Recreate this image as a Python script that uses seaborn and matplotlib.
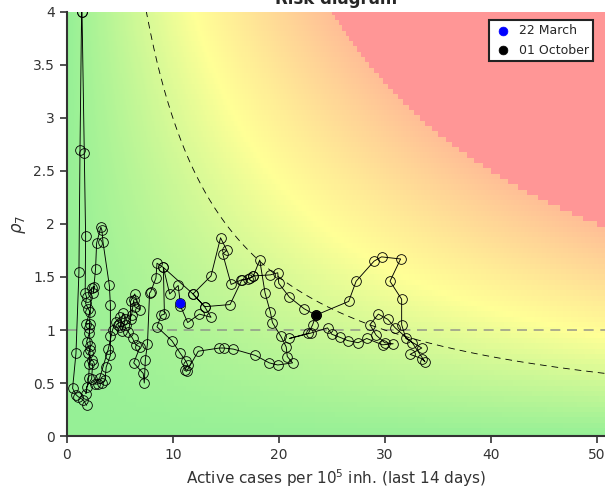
import numpy as np
import pandas as pd
import matplotlib
matplotlib.use("Agg")
import matplotlib.pyplot as plt
from matplotlib.colors import LinearSegmentedColormap, Normalize
import seaborn as sns

# ---- data ----
active_cases = [1.86, 1.54, 1.07, 0.85, 0.53, 0.85, 1.13, 1.23, 1.38, 1.42, 1.63, 1.76, 1.72, 1.85, 1.76,
                2.01, 2.17, 1.79, 2.17, 2.11, 1.85, 2.17, 2.01, 2.33, 2.11, 2.42, 2.33, 1.85, 1.79, 2.05,
                2.20, 2.10, 2.33, 2.58, 2.49, 2.70, 2.80, 3.20, 3.30, 3.40, 4.00, 4.10, 4.10, 4.10, 3.70,
                3.60, 3.30, 2.90, 2.60, 3.10, 3.90, 4.30, 4.60, 5.00, 4.80, 5.20, 5.50, 5.30, 5.00, 5.60,
                6.10, 6.30, 6.40, 6.90, 6.40, 6.00, 6.00, 5.80, 6.20, 6.50, 6.90, 6.30, 7.20, 7.30, 7.40,
                7.60, 7.80, 7.90, 8.40, 8.50, 9.10, 9.70, 10.50, 10.70, 10.70, 11.40, 12.50, 13.60, 13.00, 11.90,
                13.60, 14.50, 15.10, 14.70, 15.50, 16.40, 17.30, 17.60, 18.20, 18.70, 19.20, 19.40, 20.20, 20.70,
                20.80, 21.30, 19.90, 19.10, 17.80, 15.70, 14.80, 14.40, 12.40, 11.30, 11.10, 11.40, 11.20, 10.70,
                9.90, 8.50, 8.90, 9.20, 9.10, 11.9, 13.0, 15.4, 16.5, 17.1, 17.6, 19.2, 19.9, 20.0, 21.0,
                22.4, 23.5, 26.6, 27.3, 29.0, 29.7, 31.5, 30.5, 31.6, 31.6, 32.0, 33.5, 32.4, 33.5, 33.8,
                32.6, 31.0, 30.3, 29.4, 28.6, 29.2, 30.0, 30.8, 29.8, 28.3, 27.5, 26.5, 25.8, 25.0, 24.6,
                23.0, 21.0, 22.8, 23.2, 23.5]
rho7 = [0.29, 0.34, 0.37, 0.39, 0.45, 0.78, 1.55, 2.70, 4.00, 4.00, 2.67, 1.89, 1.35, 1.31, 1.25,
        1.20, 1.17, 1.06, 1.06, 0.97, 0.89, 0.81, 0.78, 0.72, 0.68, 0.68, 0.54, 0.46, 0.40, 0.55,
        0.85, 1.02, 1.40, 1.41, 1.35, 1.58, 1.82, 1.97, 1.94, 1.83, 1.42, 1.24, 0.94, 0.76, 0.65,
        0.53, 0.50, 0.49, 0.49, 0.55, 0.82, 1.00, 1.08, 1.12, 1.05, 0.99, 1.10, 1.16, 1.03, 1.05,
        1.14, 1.28, 1.22, 1.19, 1.34, 1.27, 1.10, 0.98, 0.92, 0.86, 0.84, 0.69, 0.59, 0.50, 0.72,
        0.87, 1.35, 1.36, 1.49, 1.63, 1.59, 1.34, 1.42, 1.25, 1.23, 1.07, 1.15, 1.12, 1.22, 1.34,
        1.51, 1.87, 1.75, 1.72, 1.43, 1.47, 1.49, 1.51, 1.66, 1.35, 1.17, 1.07, 0.94, 0.84,
        0.75, 0.69, 0.67, 0.69, 0.76, 0.82, 0.83, 0.83, 0.80, 0.61, 0.62, 0.67, 0.71, 0.78,
        0.90, 1.03, 1.14, 1.15, 1.59, 1.34, 1.22, 1.24, 1.47, 1.48, 1.51, 1.52, 1.54, 1.44, 1.31,
        1.20, 1.14, 1.27, 1.46, 1.65, 1.69, 1.67, 1.46, 1.29, 1.05, 0.92, 0.83, 0.77, 0.73, 0.70,
        0.88, 1.02, 1.10, 1.15, 1.05, 0.95, 0.88, 0.87, 0.86, 0.92, 0.88, 0.90, 0.93, 0.96, 1.02,
        0.97, 0.92, 0.97, 1.05, 1.14]
highlight_labels = ["22 March", "01 October"]
highlight_x = [10.7, 23.5]
highlight_y = [1.25, 1.14]
highlight_colors = ["#0000ff", "#000000"]
epg_threshold_line = 30
epg_red = 100

sns.set_theme(style="ticks")
plt.rcParams['font.family'] = ['DejaVu Sans']

fig = plt.figure(figsize=(6.05, 4.91), dpi=100)
ax = fig.add_axes([0.1107, 0.112, 0.8893, 0.8636])

# background risk map
xg = np.arange(0, 51.0, 0.1)
yg = np.arange(0, 4.05, 0.05)
XX, YY = np.meshgrid(xg, yg)
Z = XX * YY
cmap = LinearSegmentedColormap.from_list(
    "risk", [(0.0, (150/255, 240/255, 150/255)),
             (0.48, (255/255, 255/255, 150/255)),
             (1.0, (255/255, 190/255, 150/255))])
cmap.set_over((255/255, 150/255, 150/255))
ax.pcolormesh(XX, YY, Z, cmap=cmap, norm=Normalize(0, epg_red), shading="nearest", zorder=0)

# reference lines
ax.axhline(1, color="#888888", ls=(0, (6, 4)), lw=1.2, alpha=0.8, zorder=1)
hx = np.linspace(7.0, 51, 400)
ax.plot(hx, epg_threshold_line / hx, color="black", ls=(0, (8, 6)), lw=0.6, zorder=1)

df = pd.DataFrame({"x": active_cases, "y": rho7})
sns.lineplot(data=df, x="x", y="y", sort=False, estimator=None, errorbar=None, ax=ax,
             color="black", lw=0.65, marker="o", markersize=7, markerfacecolor="none",
             markeredgecolor="black", markeredgewidth=0.6, zorder=3)

for lab, xv, yv, c in zip(highlight_labels, highlight_x, highlight_y, highlight_colors):
    sns.scatterplot(x=[xv], y=[yv], ax=ax, color=c, s=40, edgecolor=c, label=lab, zorder=4)

ax.set_xlim(0, 50.8)
ax.set_ylim(0, 4)
ax.set_xticks([0, 10, 20, 30, 40, 50])
ax.set_yticks([0, 0.5, 1, 1.5, 2, 2.5, 3, 3.5, 4])
ax.set_yticklabels(["0", "0.5", "1", "1.5", "2", "2.5", "3", "3.5", "4"])
ax.tick_params(direction="out", length=5, width=1.2, colors="#333333", labelsize=10)
for s in ["top", "right"]:
    ax.spines[s].set_visible(False)
for s in ["left", "bottom"]:
    ax.spines[s].set_color("#333333")
    ax.spines[s].set_linewidth(1.5)

ax.set_xlabel(r"Active cases per 10$^5$ inh. (last 14 days)", fontsize=11, color="#333333")
ax.set_ylabel(r"$\rho_7$", fontsize=12, color="#333333")
ax.set_title("Risk diagram", fontsize=12, fontweight="bold", pad=6)

leg = ax.legend(loc="upper right", frameon=True, fancybox=False, fontsize=9,
                borderpad=0.35, handletextpad=0.6, handlelength=1.4, borderaxespad=0,
                bbox_to_anchor=(0.978, 0.981))
leg.get_frame().set_edgecolor("#222222")
leg.get_frame().set_linewidth(1.5)
leg.get_frame().set_facecolor("white")
leg.get_frame().set_alpha(1)

fig.savefig("out.png", dpi=100)
